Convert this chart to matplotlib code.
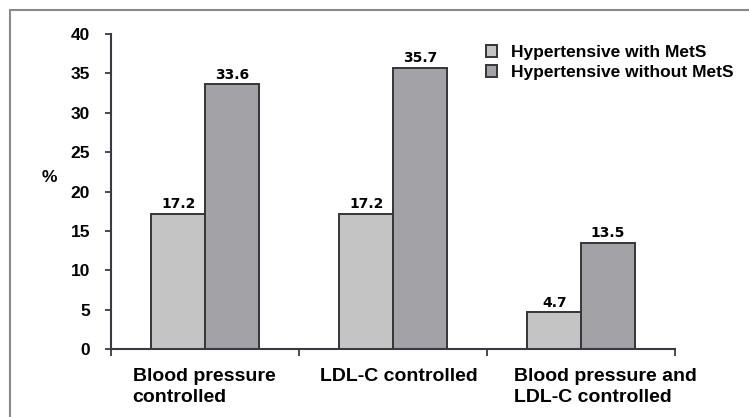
import matplotlib.pyplot as plt
from matplotlib.patches import Rectangle
import numpy as np

categories = ["Blood pressure\ncontrolled", "LDL-C controlled", "Blood pressure and\nLDL-C controlled"]
with_mets = [17.2, 17.2, 4.7]
without_mets = [33.6, 35.7, 13.5]
series_labels = ["Hypertensive with MetS", "Hypertensive without MetS"]
yticks = [0, 5, 10, 15, 20, 25, 30, 35, 40]

light = "#c4c4c4"
dark = "#a3a3a7"
edge = "#34343a"
axcol = "#3a3a42"

fig = plt.figure(figsize=(7.49, 4.17), dpi=100)
ax = fig.add_axes([111 / 749, 1 - 349 / 417, 564 / 749, 315 / 417])

# outer frame of the figure
fig.patches.append(Rectangle((10 / 749, -0.1), 1.2, 1 - 10 / 417 + 0.1,
                             transform=fig.transFigure, fill=False,
                             edgecolor="#8a8a8a", lw=1.5))

x = np.arange(len(categories))
w = 0.285
b1 = ax.bar(x - w / 2, with_mets, w, color=light, edgecolor=edge, lw=1.4,
            label=series_labels[0])
b2 = ax.bar(x + w / 2, without_mets, w, color=dark, edgecolor=edge, lw=1.4,
            label=series_labels[1])

for bars, vals in ((b1, with_mets), (b2, without_mets)):
    for r, v in zip(bars, vals):
        ax.text(r.get_x() + r.get_width() / 2, v + 0.3, f"{v:.1f}",
                ha="center", va="bottom", fontsize=10, fontweight="bold",
                family="DejaVu Sans")

ax.set_xlim(-0.5, 2.5)
ax.set_ylim(0, 40)
ax.set_yticks(yticks)
ax.set_yticklabels([str(t) for t in yticks], fontsize=12.5, fontweight="bold",
                   family="Liberation Sans")
ax.tick_params(axis="y", direction="out", length=4, width=1.3, color=axcol, pad=11)
ax.set_xticks([-0.5, 0.5, 1.5, 2.5])
ax.set_xticklabels([])
ax.tick_params(axis="x", direction="out", length=5, width=1.3, color=axcol)

for s in ("top", "right"):
    ax.spines[s].set_visible(False)
for s in ("left", "bottom"):
    ax.spines[s].set_color(axcol)
    ax.spines[s].set_linewidth(1.5)

# category labels, left-aligned blocks under each group
offsets = [-0.385, -0.39, -0.355]
for i, (lab, off) in enumerate(zip(categories, offsets)):
    ax.text(i + off, -2.4, lab, ha="left", va="top", fontsize=14,
            fontweight="bold", family="Liberation Sans", linespacing=1.34,
            transform=ax.transData, clip_on=False)

ax.set_ylabel("%", rotation=0, fontsize=12.5, fontweight="bold",
              family="Liberation Sans", va="center", ha="center")
ax.yaxis.set_label_coords(-0.11, 0.543)

leg = ax.legend(loc="upper left", bbox_to_anchor=(486 / 749, 1 - 45 / 417),
                bbox_transform=fig.transFigure, frameon=False,
                prop={"family": "Liberation Sans", "weight": "bold", "size": 12.5},
                handlelength=0.65, handleheight=0.65, handletextpad=0.8,
                labelspacing=0.3, borderpad=0, borderaxespad=0)

fig.savefig("out.png", dpi=100)
